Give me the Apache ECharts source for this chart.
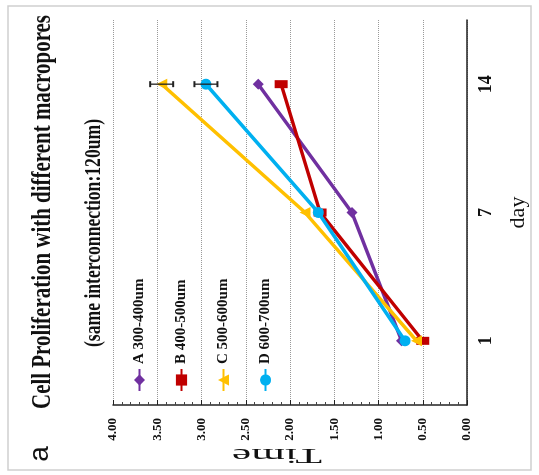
<!DOCTYPE html>
<html><head><meta charset="utf-8">
<script src="https://cdn.jsdelivr.net/npm/echarts@6/dist/echarts.min.js"></script>
<style>
html,body{margin:0;padding:0;width:539px;height:475px;overflow:hidden;background:#fff;}
#chart{position:absolute;left:32px;top:-32px;width:475px;height:539px;transform:rotate(-90deg);transform-origin:50% 50%;}
</style></head><body><div id="chart"></div>
<script>
// ---- data ----
const days = ['1', '7', '14'];
const seriesNames = ['A 300-400um', 'B 400-500um', 'C 500-600um', 'D 600-700um'];
const valuesA = [0.74, 1.30, 2.36];
const valuesB = [0.50, 1.66, 2.10];
const valuesC = [0.57, 1.83, 3.45];
const valuesD = [0.70, 1.68, 2.95];
const errorsC = [0, 0, 0.13];
const errorsD = [0, 0, 0.13];
const timeTicks = [0, 0.5, 1, 1.5, 2, 2.5, 3, 3.5, 4];
const titleText = 'Cell Proliferation with different macropores';
const subtitleText = '(same interconnection:120um)';

const colors = ['#7030A0', '#C00000', '#FFC000', '#00B0F0'];
const symbols = ['diamond', 'rect', 'triangle', 'circle'];
const symbolSizes = [11, [8, 13], 11, 11];
const allValues = [valuesA, valuesB, valuesC, valuesD];

const serif = '"Liberation Serif", "Times New Roman", serif';
const ctx = document.createElement('canvas').getContext('2d');
function fitScale(font, text, target) {
  ctx.font = font;
  return target / ctx.measureText(text).width;
}
const titleFont = 'bold 28px ' + serif;
const subFont = 'bold 24px ' + serif;
const timeFont = '22px ' + serif;

const chart = echarts.init(document.getElementById('chart'), null, {renderer: 'canvas'});

const lineSeries = allValues.map((vals, i) => ({
  name: seriesNames[i],
  type: 'line',
  data: vals,
  symbol: symbols[i],
  symbolSize: symbolSizes[i],
  lineStyle: {width: 3.5, color: colors[i]},
  itemStyle: {color: colors[i]},
  z: 3 + i
}));

function errData(vals, errs) {
  const out = [];
  vals.forEach((v, i) => { if (errs[i] > 0) out.push([i, v, errs[i]]); });
  return out;
}
const errorSeries = {
  type: 'custom',
  name: 'err',
  z: 10,
  data: errData(valuesC, errorsC).concat(errData(valuesD, errorsD)),
  renderItem: function (params, api) {
    const x = api.value(0), v = api.value(1), e = api.value(2);
    const hi = api.coord([x, v + e]);
    const lo = api.coord([x, v - e]);
    const cap = 3;
    const st = {stroke: '#222', lineWidth: 1.3};
    return {type: 'group', children: [
      {type: 'line', shape: {x1: hi[0], y1: hi[1], x2: lo[0], y2: lo[1]}, style: st},
      {type: 'line', shape: {x1: hi[0] - cap, y1: hi[1], x2: hi[0] + cap, y2: hi[1]}, style: {stroke: '#222', lineWidth: 2}},
      {type: 'line', shape: {x1: lo[0] - cap, y1: lo[1], x2: lo[0] + cap, y2: lo[1]}, style: {stroke: '#222', lineWidth: 2}}
    ]};
  }
};

const option = {
  backgroundColor: '#fff',
  animation: false,
  grid: {left: 70, right: 20, top: 113, bottom: 72},
  legend: {
    data: seriesNames,
    orient: 'vertical',
    left: 78, top: 127,
    itemGap: 27, itemWidth: 22, itemHeight: 14,
    textStyle: {fontFamily: serif, fontWeight: 'bold', fontSize: 15, color: '#111'}
  },
  xAxis: {
    type: 'category',
    data: days,
    boundaryGap: true,
    name: 'day',
    nameLocation: 'middle',
    nameGap: 40,
    nameTextStyle: {fontFamily: serif, fontSize: 22, color: '#111'},
    axisLine: {lineStyle: {color: '#222', width: 1.5}},
    axisTick: {alignWithLabel: true, length: 4, lineStyle: {color: '#222'}},
    axisLabel: {fontFamily: serif, fontWeight: 'bold', fontSize: 18, color: '#111', margin: 10}
  },
  yAxis: {
    type: 'value',
    min: 0, max: 4, interval: 0.5,
    axisLine: {show: true, lineStyle: {color: '#222', width: 1.5}},
    axisTick: {show: true, inside: true, length: 5, lineStyle: {color: '#222'}},
    minorTick: {show: true, splitNumber: 5, length: 3, lineStyle: {color: '#444'}},
    splitLine: {show: true, lineStyle: {type: 'dotted', color: '#999', width: 1}},
    axisLabel: {
      fontFamily: serif, fontWeight: 'bold', fontSize: 13, color: '#111', margin: 13,
      formatter: v => timeTicks.indexOf(v) >= 0 ? v.toFixed(2) : ''
    }
  },
  graphic: [
    {type: 'rect', shape: {x: 5, y: 8, width: 464, height: 523}, style: {fill: 'none', stroke: '#cfcfcf', lineWidth: 1.5}, z: -1},
    {type: 'text', x: 263, y: 43, scaleX: fitScale(titleFont, titleText, 394),
      style: {text: titleText, x: 0, y: 0, font: titleFont, fill: '#111', textAlign: 'center', align: 'center', textVerticalAlign: 'middle', verticalAlign: 'middle'}},
    {type: 'text', x: 242, y: 94, scaleX: fitScale(subFont, subtitleText, 228),
      style: {text: subtitleText, x: 0, y: 0, font: subFont, fill: '#111', textAlign: 'center', align: 'center', textVerticalAlign: 'middle', verticalAlign: 'middle'}},
    {type: 'text', x: 21, y: 40,
      style: {text: 'a', x: 0, y: 0, font: '28px "Liberation Sans", Arial, sans-serif', fill: '#111', textAlign: 'center', align: 'center', textVerticalAlign: 'middle', verticalAlign: 'middle'}},
    {type: 'text', x: 20, y: 277, rotation: Math.PI / 2, scaleX: fitScale(timeFont, 'Time', 90),
      style: {text: 'Time', x: 0, y: 0, font: timeFont, fill: '#111', textAlign: 'center', align: 'center', textVerticalAlign: 'middle', verticalAlign: 'middle'}}
  ],
  series: lineSeries.concat([errorSeries])
};
chart.setOption(option);
</script></body></html>
